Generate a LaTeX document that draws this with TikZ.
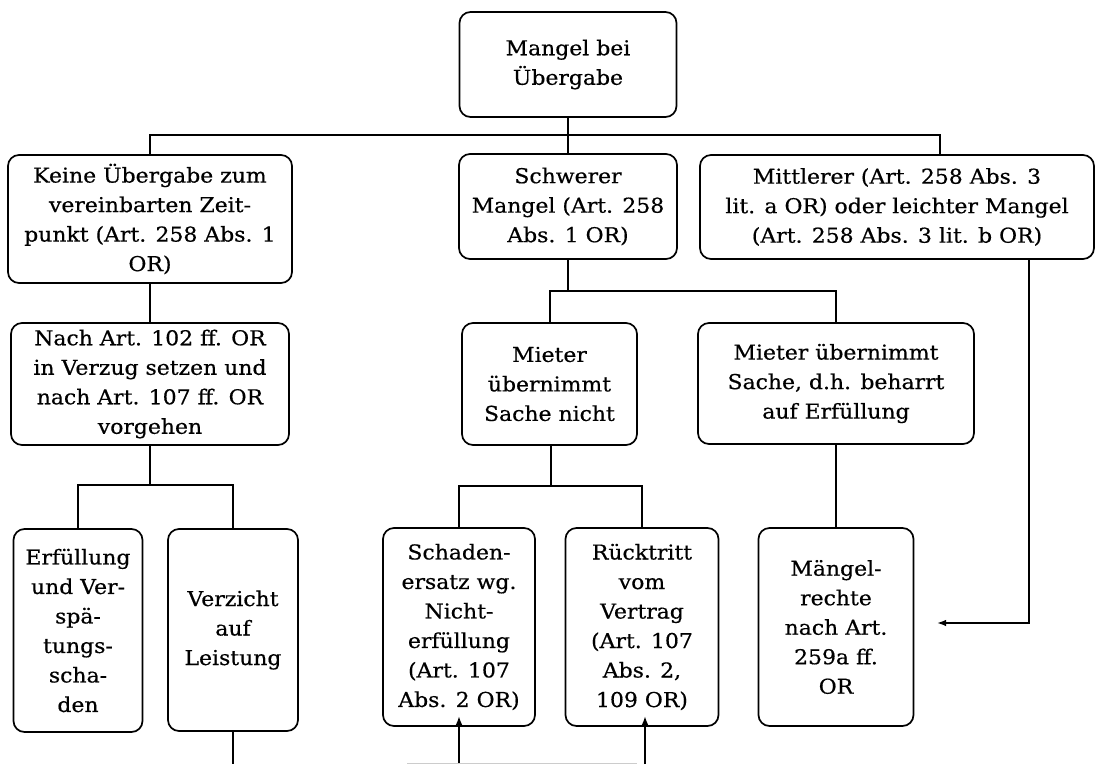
\documentclass[tikz,border=0pt]{standalone}
\usepackage{fontspec}
\setmainfont{DejaVu Serif}[FakeStretch=1.07, FakeBold=0.5]
\usetikzlibrary{arrows.meta}
\begin{document}
\begin{tikzpicture}[x=1pt,y=-1pt,
  box/.style={draw, line width=1.7pt, rounded corners=11pt, inner sep=0pt,
    align=center, font=\fontsize{20.5}{29.5}\selectfont},
  link/.style={line width=1.7pt},
  arr/.style={line width=1.7pt, -{Latex[length=9pt,width=6.5pt]}}]
\useasboundingbox (0,0) rectangle (1098,764);
% level 0
\node[box, minimum width=217pt, minimum height=105pt] (top) at (568,64.5) {Mangel bei\\Übergabe};
% level 1
\node[box, minimum width=284pt, minimum height=128pt] (keine) at (150,219)
  {Keine Übergabe zum\\vereinbarten Zeit-\\punkt (Art. 258 Abs. 1\\OR)};
\node[box, minimum width=218pt, minimum height=105pt] (schwer) at (568,206.5)
  {Schwerer\\Mangel (Art. 258\\Abs. 1 OR)};
\node[box, minimum width=394pt, minimum height=104pt] (mittl) at (897,207)
  {Mittlerer (Art. 258 Abs. 3\\lit. a OR) oder leichter Mangel\\(Art. 258 Abs. 3 lit. b OR)};
% level 2
\node[box, minimum width=278pt, minimum height=122pt] (nach) at (150,384)
  {Nach Art. 102 ff. OR\\in Verzug setzen und\\nach Art. 107 ff. OR\\vorgehen};
\node[box, minimum width=175pt, minimum height=122pt] (mieterA) at (549.5,384)
  {Mieter\\übernimmt\\Sache nicht};
\node[box, minimum width=276pt, minimum height=121pt] (mieterB) at (836,383.5)
  {Mieter übernimmt\\Sache, d.h. beharrt\\auf Erfüllung};
% level 3
\node[box, minimum width=129pt, minimum height=203pt] (erf) at (78,630.5)
  {Erfüllung\\und Ver-\\spä-\\tungs-\\scha-\\den};
\node[box, minimum width=130pt, minimum height=202pt] (verz) at (233,630)
  {Verzicht\\auf\\Leistung};
\node[box, minimum width=152pt, minimum height=198pt] (schaden) at (459,627)
  {Schaden-\\ersatz wg.\\Nicht-\\erfüllung\\(Art. 107\\Abs. 2 OR)};
\node[box, minimum width=153pt, minimum height=198pt] (ruck) at (642,627)
  {Rücktritt\\vom\\Vertrag\\(Art. 107\\Abs. 2,\\109 OR)};
\node[box, minimum width=155pt, minimum height=198pt] (maengel) at (836,627)
  {Mängel-\\rechte\\nach Art.\\259a ff.\\OR};
% branching from the top box
\coordinate (busA) at (568,135);
\draw[link] (top.south) -- (busA);
\draw[link] (keine.north) |- (busA);
\draw[link] (busA) -- (busA |- schwer.north);
\draw[link] (busA) -| ([xshift=43pt]mittl.north);
% left column
\draw[link] (keine.south) -- (nach.north);
\coordinate (busB) at (150,485);
\draw[link] (nach.south) -- (busB);
\draw[link] (erf.north) |- (busB) -| (verz.north);
\coordinate (endV) at (233,764);
\draw[link] (verz.south) -- (endV);
% middle column
\coordinate (busC) at (568,291);
\draw[link] (schwer.south) -- (busC);
\draw[link] (mieterA.north -| 550,0) |- (busC) -| (mieterB.north);
\coordinate (busD) at (551,486);
\draw[link] (busD |- mieterA.south) -- (busD);
\draw[link] (schaden.north) |- (busD) -| (ruck.north);
\draw[link] (mieterB.south) -- (maengel.north);
% arrow from the right box to the defect rights
\coordinate (mr) at (1029,259);
\coordinate (bend) at (1029,623);
\coordinate (tipM) at (937,623);
\draw[arr] (mr) -- (bend) -- (tipM);
% arrows entering from below
\coordinate (inS) at (459,764);
\coordinate (inR) at (645,764);
\draw[arr] (inS) -- ([yshift=11pt]schaden.south);
\draw[arr] (inR) -- ([xshift=3pt,yshift=11pt]ruck.south);
\coordinate (edgeL) at (407,763.5);
\coordinate (edgeR) at (637,763.5);
\draw[gray!40, line width=1pt] (edgeL) -- (edgeR);
\end{tikzpicture}
\end{document}
